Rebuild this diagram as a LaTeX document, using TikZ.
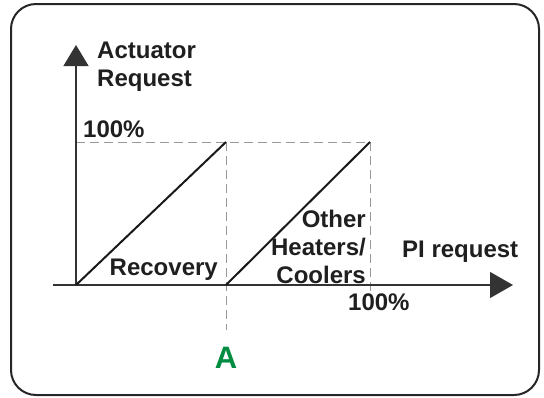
\documentclass[tikz,border=0pt]{standalone}
\usepackage{fontspec}
\setmainfont{Liberation Sans}
\usetikzlibrary{arrows.meta}
\definecolor{markgreen}{RGB}{0,140,65}

\begin{document}
\begin{tikzpicture}[x=1pt, y=-1pt,
  lbl/.style={inner sep=0pt, font=\fontsize{24}{28}\selectfont\bfseries, text=black!88},
  axis/.style={draw=black!80, line width=1.3pt},
  guide/.style={draw=black!40, line width=0.9pt, dash pattern=on 9pt off 5pt},
  ramp/.style={draw=black!90, line width=2pt}]
\useasboundingbox (0,0) rectangle (544,397);
\draw[line width=2pt, draw=black!85, rounded corners=25pt] (11,4) rectangle (539,395);

\coordinate (origin) at (76,285);
\coordinate (ytip) at (76,45);
\coordinate (xstart) at (53,285);
\coordinate (xtip) at (513,285);
\coordinate (ytop) at (76,142);
\coordinate (recoverytop) at (226,142);
\coordinate (otherstart) at (226,285);
\coordinate (othertop) at (370,142);
\coordinate (guideA) at (226,330);
\coordinate (guidemax) at (370,292);

\draw[guide] (ytop) -- (othertop);
\draw[guide] (recoverytop) -- (guideA);
\draw[guide] (othertop) -- (guidemax);
\draw[axis, -{Triangle[length=21pt, width=25pt]}] (origin) -- (ytip);
\draw[axis, -{Triangle[length=23pt, width=26pt]}] (xstart) -- (xtip);
\draw[ramp] (origin) -- (recoverytop);
\draw[ramp] (otherstart) -- (othertop);

% multi-line labels sit on their last baseline
\node (yname) [lbl, align=left, anchor=base west] at (97,86) {Actuator\\Request};
\node (ymax) [lbl, anchor=base west] at (83,137) {100\%};
\node (recovery) [lbl, anchor=base east] at (218,275) {Recovery};
\node (other) [lbl, align=right, anchor=base east] at (366,283) {Other\\Heaters/\\Coolers};
\node (xname) [lbl, anchor=base west] at (402,257) {PI request};
\node (xmax) [lbl, anchor=base west] at (348,310) {100\%};
\node (pointA) [lbl, font=\fontsize{31}{31}\selectfont\bfseries, text=markgreen, anchor=base] at (226,368) {A};
\end{tikzpicture}
\end{document}
